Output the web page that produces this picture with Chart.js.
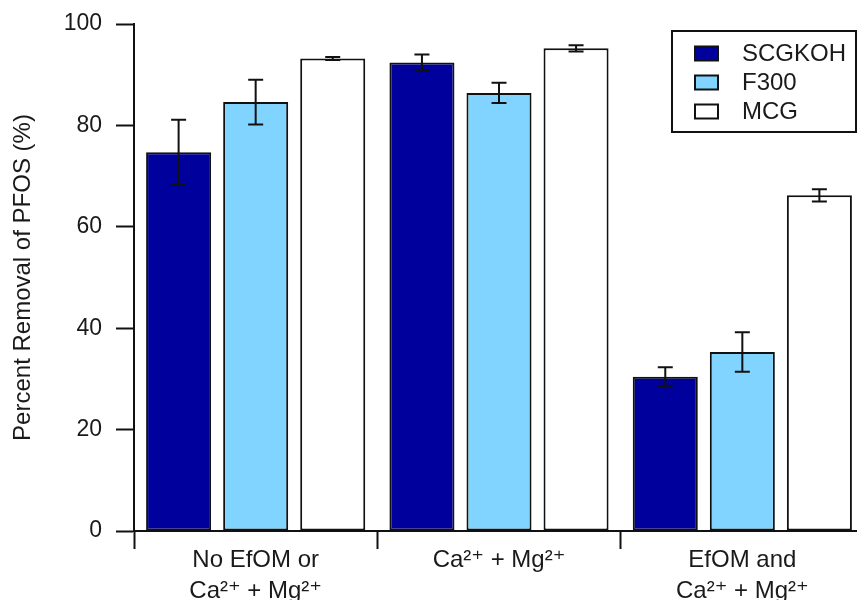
<!DOCTYPE html>
<html>
<head>
<meta charset="utf-8">
<script src="https://cdn.jsdelivr.net/npm/chart.js@4.4.1/dist/chart.umd.min.js"></script>
<style>
    html, body { margin: 0; padding: 0; background: #fff; overflow: hidden; }
    #wrap { width: 864px; height: 600px; }
</style>
</head>
<body>
<div id="wrap"><canvas id="chart" width="864" height="600"></canvas></div>
<script>
// categories along the x axis (multi-line labels)
const categories = [
    ["No EfOM or", "Ca²⁺ + Mg²⁺"],
    "Ca²⁺ + Mg²⁺",
    ["EfOM and", "Ca²⁺ + Mg²⁺"],
];
const seriesNames = ["SCGKOH", "F300", "MCG"];

// percent removal
const scgkoh = [74.7, 92.4, 30.4];
const f300 = [84.6, 86.4, 35.3];
const mcg = [93.2, 95.2, 66.2];

// +/- error bar half-lengths
const scgkohErr = [6.4, 1.6, 1.9];
const f300Err = [4.4, 2.0, 3.9];
const mcgErr = [0.3, 0.6, 1.2];

const yTicks = [0, 20, 40, 60, 80, 100];

const FONT = "'Liberation Sans', Arial, 'DejaVu Sans', sans-serif";
const INK = "#111";
const TEXT = "#1a1a1a";

// draws the +/- whiskers on top of every bar, using the y scale
const errorBars = {
    id: "errorBars",
    afterDatasetsDraw(chart) {
        const ctx = chart.ctx;
        const y = chart.scales.y;
        ctx.save();
        ctx.strokeStyle = INK;
        ctx.lineWidth = 2;
        chart.data.datasets.forEach((ds, i) => {
            const meta = chart.getDatasetMeta(i);
            meta.data.forEach((bar, j) => {
                const v = ds.data[j];
                const e = ds.errors[j];
                const top = y.getPixelForValue(v + e);
                const bot = y.getPixelForValue(v - e);
                const cap = 7.5;
                ctx.beginPath();
                ctx.moveTo(bar.x, top);
                ctx.lineTo(bar.x, bot);
                ctx.moveTo(bar.x - cap, top);
                ctx.lineTo(bar.x + cap, top);
                ctx.moveTo(bar.x - cap, bot);
                ctx.lineTo(bar.x + cap, bot);
                ctx.stroke();
            });
        });
        ctx.restore();
    },
};

// framed legend in the upper right corner
const boxLegend = {
    id: "boxLegend",
    afterDraw(chart, args, opts) {
        const ctx = chart.ctx;
        ctx.save();
        ctx.lineWidth = 2;
        ctx.strokeStyle = INK;
        ctx.fillStyle = "#fff";
        ctx.fillRect(opts.x, opts.y, opts.w, opts.h);
        ctx.strokeRect(opts.x, opts.y, opts.w, opts.h);
        ctx.font = "24px " + FONT;
        ctx.textBaseline = "middle";
        chart.data.datasets.forEach((ds, i) => {
            const cy = opts.y + opts.firstRow + i * opts.rowGap;
            ctx.fillStyle = ds.backgroundColor;
            ctx.fillRect(opts.x + 23, cy - 7, 23, 14);
            ctx.strokeStyle = INK;
            ctx.strokeRect(opts.x + 23, cy - 7, 23, 14);
            ctx.fillStyle = TEXT;
            ctx.fillText(ds.label, opts.x + 70, cy + 1);
        });
        ctx.restore();
    },
};

const makeSet = (label, data, errors, color) => ({
    label,
    data,
    errors,
    backgroundColor: color,
    borderColor: INK,
    borderWidth: 2,
    borderSkipped: false,
    categoryPercentage: 0.95,
    barPercentage: 0.844,
});

new Chart(document.getElementById("chart"), {
    type: "bar",
    data: {
        labels: categories,
        datasets: [
            makeSet(seriesNames[0], scgkoh, scgkohErr, "#00009c"),
            makeSet(seriesNames[1], f300, f300Err, "#80d4ff"),
            makeSet(seriesNames[2], mcg, mcgErr, "#ffffff"),
        ],
    },
    options: {
        responsive: false,
        animation: false,
        devicePixelRatio: 1,
        layout: { padding: { top: 24, left: 0, right: 0, bottom: 0 } },
        plugins: {
            legend: { display: false },
            tooltip: { enabled: false },
            boxLegend: { x: 672, y: 31, w: 184, h: 101, firstRow: 22.5, rowGap: 29 },
        },
        scales: {
            y: {
                min: 0,
                max: 100,
                afterBuildTicks: (s) => { s.ticks = yTicks.map((v) => ({ value: v })); },
                afterFit: (s) => { s.width = 134; s.paddingTop = 0; s.paddingBottom = 0; },
                ticks: { font: { family: FONT, size: 23 }, color: TEXT, padding: 14 },
                grid: { drawOnChartArea: false, tickLength: 18, tickWidth: 2, tickColor: INK },
                border: { color: INK, width: 2 },
                title: {
                    display: true,
                    text: "Percent Removal of PFOS (%)",
                    font: { family: FONT, size: 24 },
                    color: TEXT,
                    padding: { top: 9, bottom: 0 },
                },
            },
            x: {
                afterFit: (s) => { s.height = 69; },
                ticks: { font: { family: FONT, size: 24, lineHeight: 1.3 }, color: TEXT, padding: -4 },
                grid: { offset: true, drawOnChartArea: false, tickLength: 18, tickWidth: 2, tickColor: INK },
                border: { color: INK, width: 2 },
            },
        },
    },
    plugins: [errorBars, boxLegend],
});
</script>
</body>
</html>
